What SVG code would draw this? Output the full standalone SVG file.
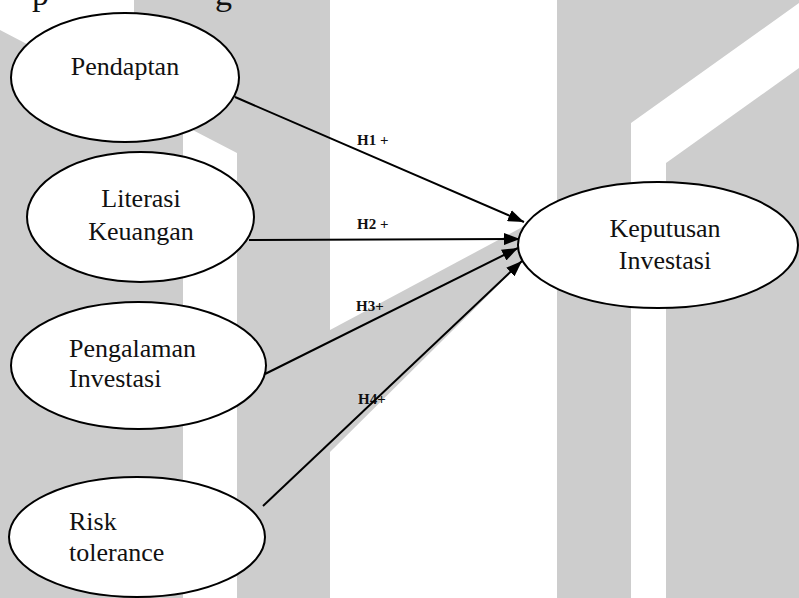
<svg xmlns="http://www.w3.org/2000/svg" width="799" height="598" viewBox="0 0 799 598">
<defs>
<style>
.wm{fill:#cdcdcd;stroke:none}
.node{fill:#fff;stroke:#000;stroke-width:2}
.t{font-family:"Liberation Serif","Times New Roman",serif;font-size:26px;fill:#111}
.lbl{font-family:"Liberation Serif","Times New Roman",serif;font-size:15px;font-weight:bold;fill:#111}
.edge{stroke:#000;stroke-width:2;fill:none;marker-end:url(#ah)}
</style>
<marker id="ah" markerUnits="userSpaceOnUse" markerWidth="16" markerHeight="12" refX="16" refY="6" orient="auto">
<path d="M0,0 L16,6 L0,12 z" fill="#000"/>
</marker>
</defs>
<rect width="799" height="598" fill="#fff"/>
<g id="watermark">
<polygon class="wm" points="0,30 134,100 134,0 237,0 237,153 183,125 183,598 0,598"/>
<rect class="wm" x="237" y="0" width="93" height="598"/>
<polygon class="wm" points="330,330 560,207 560,224 330,452"/>
<polygon class="wm" points="557,0 799,0 799,3 631,123 631,598 557,598"/>
<polygon class="wm" points="666,163 799,68 799,598 666,598"/>
</g>
<g id="top-text">
<text class="t" x="32" y="5" style="font-size:34px">p</text>
<text class="t" x="215" y="5" style="font-size:34px">g</text>
</g>
<g id="connectors">
<text class="lbl" x="357" y="145">H1 +</text>
<text class="lbl" x="357" y="229">H2 +</text>
<text class="lbl" x="356" y="311">H3+</text>
<text class="lbl" x="358" y="404">H4+</text>
<line class="edge" x1="235" y1="97" x2="524" y2="222"/>
<line class="edge" x1="249" y1="240" x2="520" y2="239"/>
<line class="edge" x1="265" y1="374" x2="518" y2="248"/>
<line class="edge" x1="263" y1="506" x2="522" y2="261"/>
</g>
<g id="pendaptan">
<ellipse class="node" cx="125" cy="77.5" rx="114" ry="64.5"/>
<text class="t" x="125" y="75" text-anchor="middle">Pendaptan</text>
</g>
<g id="literasi">
<ellipse class="node" cx="140.5" cy="217" rx="113.5" ry="65"/>
<text class="t" x="141" y="207" text-anchor="middle">Literasi</text>
<text class="t" x="141" y="240" text-anchor="middle">Keuangan</text>
</g>
<g id="pengalaman">
<ellipse class="node" cx="138.5" cy="365.5" rx="127.5" ry="63.5"/>
<text class="t" x="69" y="357">Pengalaman</text>
<text class="t" x="69" y="387">Investasi</text>
</g>
<g id="risk">
<ellipse class="node" cx="137" cy="537" rx="128" ry="60"/>
<text class="t" x="69" y="530">Risk</text>
<text class="t" x="69" y="561">tolerance</text>
</g>
<g id="keputusan">
<ellipse class="node" cx="658" cy="245" rx="140" ry="63"/>
<text class="t" x="665" y="237" text-anchor="middle">Keputusan</text>
<text class="t" x="665" y="269" text-anchor="middle">Investasi</text>
</g>
</svg>
